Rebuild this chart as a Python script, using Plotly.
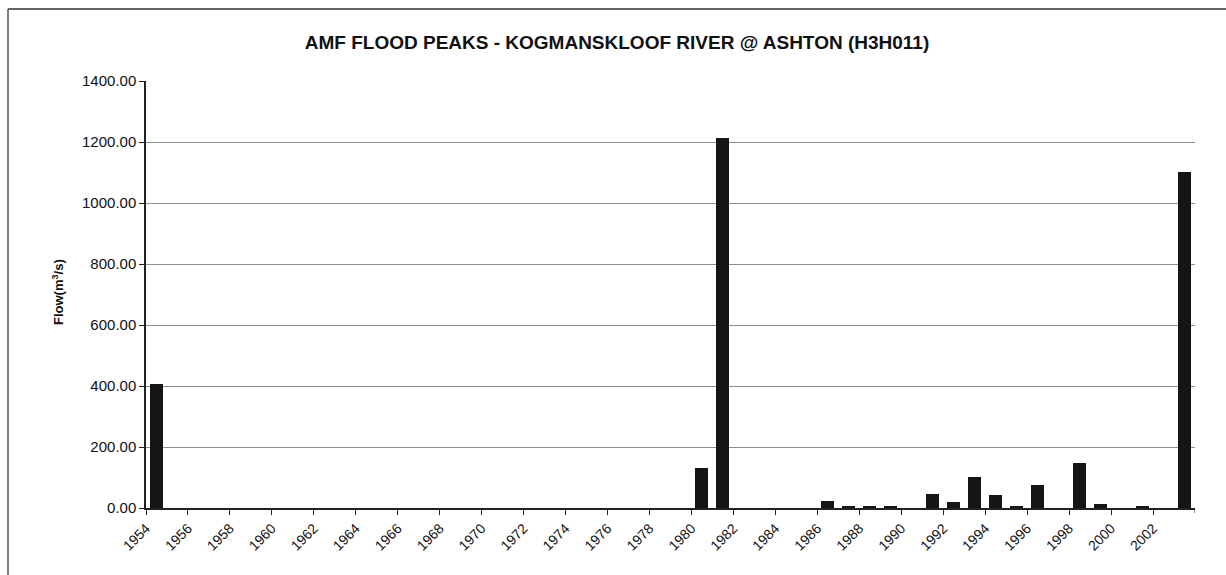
import plotly.graph_objects as go

# Annual maximum flood peaks, Kogmanskloof River at Ashton (H3H011)
years = [1954, 1955, 1956, 1957, 1958, 1959, 1960, 1961, 1962, 1963,
         1964, 1965, 1966, 1967, 1968, 1969, 1970, 1971, 1972, 1973,
         1974, 1975, 1976, 1977, 1978, 1979, 1980, 1981, 1982, 1983,
         1984, 1985, 1986, 1987, 1988, 1989, 1990, 1991, 1992, 1993,
         1994, 1995, 1996, 1997, 1998, 1999, 2000, 2001, 2002, 2003]
flow = [407, 0, 0, 0, 0, 0, 0, 0, 0, 0,
        0, 0, 0, 0, 0, 0, 0, 0, 0, 0,
        0, 0, 0, 0, 0, 0, 132, 1213, 0, 0,
        0, 0, 24, 5, 4, 6, 0, 46, 21, 102,
        43, 4, 75, 0, 148, 12, 0, 4, 0, 1102]
tick_labels = ["1954", "1956", "1958", "1960", "1962", "1964", "1966", "1968",
               "1970", "1972", "1974", "1976", "1978", "1980", "1982", "1984",
               "1986", "1988", "1990", "1992", "1994", "1996", "1998", "2000",
               "2002"]

FONT = "Liberation Sans, Arial, sans-serif"

# ticks sit on the category boundary just before each labelled year
tick_pos = [int(t) - 0.5 for t in tick_labels]

fig = go.Figure(
    go.Bar(
        x=years,
        y=flow,
        width=0.62,
        marker=dict(color="#151515", line=dict(width=0)),
    )
)

# plot-area geometry in pixels (for paper-coordinate conversions)
L, R, T, B = 146, 1195, 81, 508
W, H = R - L, B - T


def px(xp):
    return (xp - L) / W


def py(yp):
    return (B - yp) / H


fig.update_layout(
    width=1226,
    height=575,
    margin=dict(l=L, r=1226 - R, t=T, b=575 - B),
    paper_bgcolor="white",
    plot_bgcolor="white",
    showlegend=False,
    bargap=0,
    title=dict(
        text="<b>AMF FLOOD PEAKS - KOGMANSKLOOF RIVER @ ASHTON (H3H011)</b>",
        x=617 / 1226,
        xanchor="center",
        y=1 - 42 / 575,
        yanchor="middle",
        font=dict(family=FONT, size=19, color="#111111"),
    ),
    xaxis=dict(
        range=[years[0] - 0.5, years[-1] + 0.5],
        tickmode="array",
        tickvals=tick_pos,
        ticktext=tick_labels,
        tickangle=-45,
        ticks="outside",
        ticklen=5,
        tickcolor="#222222",
        showgrid=False,
        showline=True,
        linecolor="#222222",
        linewidth=1.5,
        zeroline=False,
        tickfont=dict(family=FONT, size=14, color="#111111"),
    ),
    yaxis=dict(
        range=[0, 1400],
        dtick=200,
        tickformat=".2f",
        ticks="outside",
        ticklen=5,
        tickcolor="#222222",
        showline=True,
        linecolor="#222222",
        linewidth=1.5,
        showgrid=True,
        gridcolor="#8f8f8f",
        gridwidth=1,
        zeroline=False,
        tickfont=dict(family=FONT, size=15, color="#111111"),
    ),
    annotations=[
        dict(
            text="<b>Flow(m<sup>3</sup>/s)</b>",
            xref="paper",
            yref="paper",
            x=px(58),
            y=py(292),
            textangle=-90,
            showarrow=False,
            xanchor="center",
            yanchor="middle",
            font=dict(family=FONT, size=13, color="#111111"),
        )
    ],
    shapes=[
        # chart frame: top and left edges
        dict(type="line", xref="paper", yref="paper",
             x0=px(8), x1=px(1226), y0=py(9), y1=py(9),
             line=dict(color="#333333", width=1.5)),
        dict(type="line", xref="paper", yref="paper",
             x0=px(8), x1=px(8), y0=py(9), y1=py(575),
             line=dict(color="#555555", width=1.5)),
        # closing tick at the right end of the category axis
        dict(type="line", xref="x", yref="paper",
             x0=years[-1] + 0.5, x1=years[-1] + 0.5, y0=0, y1=-5 / H,
             line=dict(color="#222222", width=1)),
    ],
)

fig.write_html("out.html")
